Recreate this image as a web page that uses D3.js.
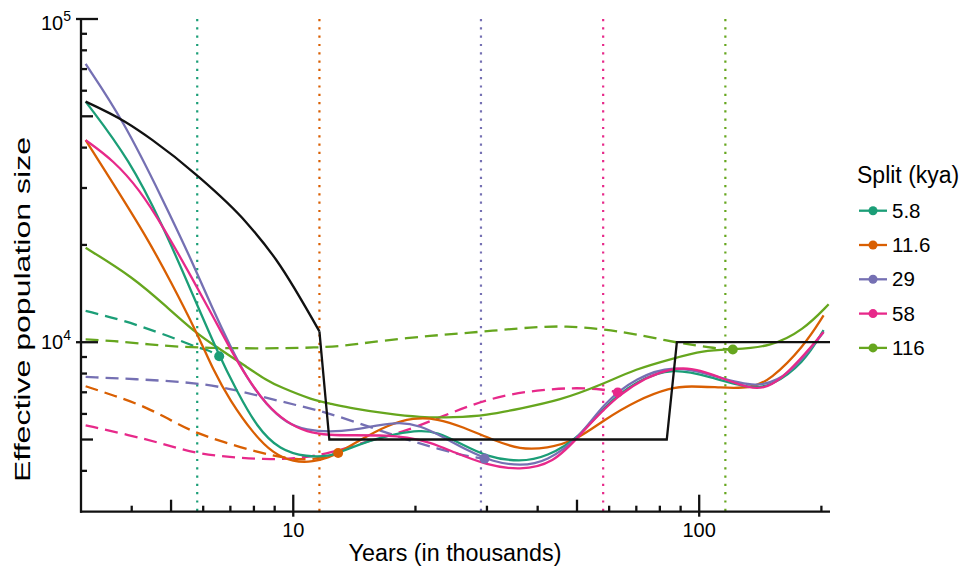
<!DOCTYPE html>
<html>
<head>
<meta charset="utf-8">
<script src="https://cdn.jsdelivr.net/npm/d3@7/dist/d3.min.js"></script>
<style>
  html, body { margin: 0; padding: 0; background: #fff; }
  svg { display: block; font-family: "Liberation Sans", Arial, Helvetica, sans-serif; }
</style>
</head>
<body>
<svg id="chart" width="967" height="572"></svg>
<script>
// split times (kya) and colours
const splitKya = [5.8, 11.6, 29, 58, 116];
const splitLabels = ["5.8", "11.6", "29", "58", "116"];
const splitColors = ["#1b9e77", "#d95f02", "#7570b3", "#e7298a", "#66a61e"];

// [years (thousands), effective population size]
const tealSolid = [[3.08,55500],[3.96,36600],[4.78,22750],[5.46,15560],[6.57,9050],[7.25,7100],[8.12,5470],[9.27,4630],[10.8,4415],[12.3,4440],[13.0,4560],[15.45,4976],[18.0,5216],[20.5,5341],[22.6,5277],[25.8,4868],[30.0,4415],[36.2,4259],[42.1,4415],[50.9,5091],[58.1,6305],[70.2,7627],[86.4,8350],[106.4,7808],[133.6,7190],[149.6,7272],[180.7,8590],[202.5,10900]];
const orangeSolid = [[3.08,42200],[3.60,31000],[4.35,21200],[4.97,15560],[5.78,10760],[6.35,8190],[6.98,6614],[7.97,5216],[8.93,4523],[10.0,4259],[11.2,4259],[12.32,4415],[12.9,4543],[14.6,4976],[17.0,5530],[19.8,5850],[22.6,5806],[26.2,5468],[31.1,4976],[36.2,4655],[42.1,4690],[49.9,4976],[58.1,5737],[70.2,6614],[84.8,7240],[95.0,7322],[112.7,7240],[133.6,7190],[149.6,7627],[180.7,9670],[202.5,12100]];
const purpleSolid = [[3.08,72600],[3.81,48700],[4.78,27500],[5.62,17900],[6.35,12560],[6.98,9788],[7.68,7735],[8.60,6382],[9.63,5614],[10.79,5341],[12.32,5277],[14.06,5341],[16.05,5530],[18.3,5666],[20.5,5530],[23.4,5091],[26.8,4630],[31.1,4259],[36.2,4140],[42.1,4259],[50.9,5091],[58.1,6473],[70.2,7790],[86.4,8488],[106.4,7961],[138.8,7140],[167.6,7900],[202.5,10750]];
const pinkSolid = [[3.08,42200],[3.60,36600],[4.19,29600],[4.78,22750],[5.67,15560],[6.35,11980],[6.98,9581],[7.68,7790],[8.60,6382],[9.63,5654],[10.79,5265],[12.32,5154],[14.06,5154],[17.0,5154],[19.0,5091],[21.7,4913],[24.8,4575],[30.0,4161],[36.2,4015],[43.7,4212],[50.9,5154],[63.0,6989],[86.4,8590],[106.4,8050],[133.6,7102],[155.4,7272],[202.5,10750]];
const greenSolid = [[3.08,19600],[4.03,15900],[4.88,12860],[5.78,10640],[6.47,9670],[7.68,8385],[8.60,7627],[9.27,7272],[11.2,6614],[12.32,6461],[14.06,6234],[17.0,6010],[20.5,5850],[24.8,5850],[30.0,5940],[36.2,6234],[45.4,6614],[57.0,7357],[70.2,8290],[85.0,8859],[102.5,9446],[121,9493],[149.6,9670],[180.7,10900],[208.4,13100]];

// second population, ends at the merge point (dot)
const tealDashed = [[3.08,12500],[3.81,11700],[4.61,10760],[5.26,10140],[5.78,9630],[6.14,9500],[6.57,9050]];
const orangeDashed = [[3.08,7308],[3.60,6853],[4.35,6305],[5.26,5530],[5.78,5240],[6.72,4913],[8.12,4575],[9.63,4365],[11.2,4313],[12.9,4543]];
const purpleDashed = [[3.08,7808],[4.35,7664],[5.78,7482],[6.98,7190],[8.43,6772],[10.2,6382],[11.98,6085],[15.45,5468],[18.7,5033],[22.57,4690],[27.3,4415],[29.6,4365]];
const pinkDashed = [[3.08,5533],[3.96,5154],[4.78,4850],[5.78,4523],[6.98,4415],[8.43,4335],[10.2,4365],[12.32,4523],[15.45,4976],[18.7,5277],[22.57,5806],[27.3,6382],[32.9,6853],[39.8,7102],[49.0,7240],[58.1,7155],[63.0,6989]];
const greenDashed = [[3.08,10200],[3.60,10100],[4.35,9858],[5.78,9562],[12.32,9562],[15.17,10000],[22.1,10500],[28.9,10760],[39.0,11150],[47.2,11230],[57.0,11000],[68.9,10640],[88.1,9950],[110.6,9562],[121,9493]];

// true history (black)
const trueGrowth = [[3.08,55500],[3.85,48100],[4.5,42200],[5.78,32900],[7.68,23400],[9.1,17900],[11.6,10800]];
const trueSteps = [[11.6,10800],[12.27,5000],[83.2,5000],[88.1,10000],[210,10000]];

const solidSeries = [tealSolid, orangeSolid, purpleSolid, pinkSolid, greenSolid];
const dashedSeries = [tealDashed, orangeDashed, purpleDashed, pinkDashed, greenDashed];

const svg = d3.select("#chart");

const x = d3.scaleLog().domain([3, 210]).range([81, 830]);
const y = d3.scaleLog().domain([2990, 1e5]).range([511.7, 19]);

const smooth = d3.line()
    .x(d => x(d[0]))
    .y(d => y(d[1]))
    .curve(d3.curveBasis);
const straight = d3.line()
    .x(d => x(d[0]))
    .y(d => y(d[1]));

// 分裂时间的竖线
svg.append("g")
  .selectAll("line")
  .data(splitKya)
  .join("line")
    .attr("x1", d => x(d)).attr("x2", d => x(d))
    .attr("y1", y(1e5)).attr("y2", y.range()[0])
    .attr("stroke", (d, i) => splitColors[i])
    .attr("stroke-width", 2.2)
    .attr("stroke-dasharray", "2.2,6.1");

// dashed population curves
svg.append("g")
  .selectAll("path")
  .data(dashedSeries)
  .join("path")
    .attr("d", smooth)
    .attr("fill", "none")
    .attr("stroke", (d, i) => splitColors[i])
    .attr("stroke-width", 2.3)
    .attr("stroke-dasharray", "13,7");

// solid curves, drawn green first so the pink ends on top
const solidOrder = [4, 1, 0, 2, 3];
svg.append("g")
  .selectAll("path")
  .data(solidOrder)
  .join("path")
    .attr("d", i => smooth(solidSeries[i]))
    .attr("fill", "none")
    .attr("stroke", i => splitColors[i])
    .attr("stroke-width", 2.3);

// true history
svg.append("path")
  .attr("d", d3.line().x(d => x(d[0])).y(d => y(d[1])).curve(d3.curveMonotoneX)(trueGrowth))
  .attr("fill", "none").attr("stroke", "#111").attr("stroke-width", 2.3);
svg.append("path")
  .attr("d", straight(trueSteps))
  .attr("fill", "none").attr("stroke", "#111").attr("stroke-width", 2.3);

// merge points
svg.append("g")
  .selectAll("circle")
  .data(dashedSeries)
  .join("circle")
    .attr("cx", d => x(d[d.length - 1][0]))
    .attr("cy", d => y(d[d.length - 1][1]))
    .attr("r", 5)
    .attr("fill", (d, i) => splitColors[i]);

// axes
const axisY = y.range()[0];
const axisX = x.range()[0];
const tickKind = v => {
  const lead = Math.round(v / Math.pow(10, Math.floor(Math.log10(v) + 1e-9)));
  return lead === 1 ? "major" : lead === 5 ? "mid" : "minor";
};

const axes = svg.append("g").attr("stroke", "#111").attr("stroke-width", 2.3);
axes.append("line").attr("x1", axisX - 1).attr("x2", x.range()[1]).attr("y1", axisY).attr("y2", axisY);
axes.append("line").attr("x1", axisX).attr("x2", axisX).attr("y1", y.range()[1] - 1).attr("y2", axisY + 1);

axes.selectAll(".xt")
  .data(x.ticks().filter(v => v > 3))
  .join("line")
    .attr("class", "xt")
    .attr("x1", d => x(d)).attr("x2", d => x(d))
    .attr("y1", d => tickKind(d) === "major" ? axisY + 5 : axisY)
    .attr("y2", d => axisY - (tickKind(d) === "major" ? 17 : tickKind(d) === "mid" ? 12 : 6));

axes.selectAll(".yt")
  .data(y.ticks().filter(v => v > 3000))
  .join("line")
    .attr("class", "yt")
    .attr("y1", d => y(d)).attr("y2", d => y(d))
    .attr("x1", d => tickKind(d) === "major" ? axisX - 5 : axisX)
    .attr("x2", d => axisX + (tickKind(d) === "major" ? 17 : tickKind(d) === "mid" ? 12 : 6));

const xLabels = [10, 100];
svg.append("g")
  .selectAll("text")
  .data(xLabels)
  .join("text")
    .attr("x", d => x(d)).attr("y", 537)
    .attr("text-anchor", "middle")
    .attr("font-size", 20)
    .text(d => d);

const yLabelExp = [4, 5];
const yl = svg.append("g")
  .selectAll("text")
  .data(yLabelExp)
  .join("text")
    .attr("x", 71)
    .attr("y", d => Math.max(y(Math.pow(10, d)), 23) + 7)
    .attr("text-anchor", "end")
    .attr("font-size", 20);
yl.append("tspan").text("10");
yl.append("tspan").attr("font-size", 14).attr("dy", -9).text(d => d);

svg.append("text")
  .attr("x", 455).attr("y", 561)
  .attr("text-anchor", "middle")
  .attr("font-size", 23.3)
  .text("Years (in thousands)");

svg.append("text")
  .attr("transform", "translate(30,309.5) rotate(-90)")
  .attr("text-anchor", "middle")
  .attr("font-size", 22)
  .attr("textLength", 345)
  .attr("lengthAdjust", "spacingAndGlyphs")
  .text("Effective population size");

// legend
const legend = svg.append("g").attr("transform", "translate(857,0)");
legend.append("text")
  .attr("x", 0).attr("y", 183)
  .attr("font-size", 23)
  .text("Split (kya)");
const item = legend.selectAll(".item")
  .data(splitLabels)
  .join("g")
    .attr("class", "item")
    .attr("transform", (d, i) => `translate(0,${210.7 + i * 34.3})`);
item.append("line")
  .attr("x1", 2).attr("x2", 30)
  .attr("stroke", (d, i) => splitColors[i]).attr("stroke-width", 2.3);
item.append("circle")
  .attr("cx", 16).attr("r", 4.5)
  .attr("fill", (d, i) => splitColors[i]);
item.append("text")
  .attr("x", 35).attr("y", 7)
  .attr("font-size", 20.5)
  .text(d => d);
</script>
</body>
</html>
